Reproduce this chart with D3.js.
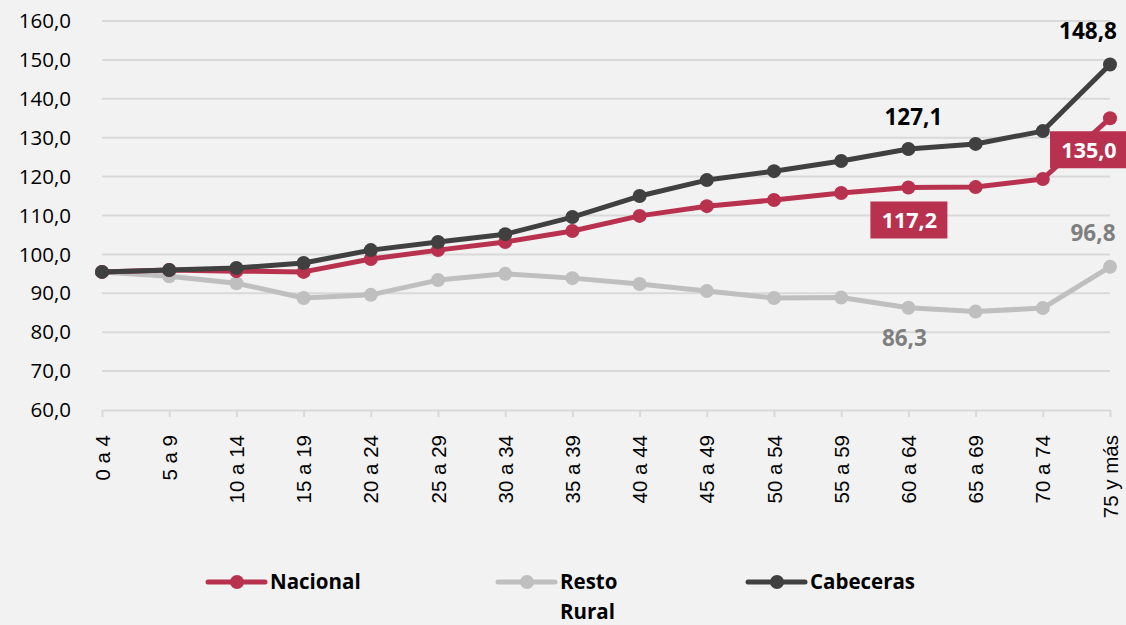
<!DOCTYPE html>
<html>
<head>
<meta charset="utf-8">
<script src="https://cdn.jsdelivr.net/npm/d3@7"></script>
<style>
	body { margin: 0; background: #f2f2f2; }
	svg { display: block; font-family: "Open Sans", "Noto Sans", sans-serif; }
	.grid line { stroke: #d9d9d9; stroke-width: 2; }
	.axis path, .axis line { stroke: #d9d9d9; stroke-width: 2; }
	.axis text { fill: #000; font-size: 20.5px; }
</style>
</head>
<body>
<div id="chart"></div>
<script>

// categories (age groups)
var categories = ["0 a 4", "5 a 9", "10 a 14", "15 a 19", "20 a 24", "25 a 29", "30 a 34",
	"35 a 39", "40 a 44", "45 a 49", "50 a 54", "55 a 59", "60 a 64", "65 a 69", "70 a 74", "75 y más"];

// series values
var nacional  = [95.5, 96.0, 95.7, 95.5, 98.8, 101.1, 103.2, 106.0, 109.9, 112.4, 114.0, 115.8, 117.2, 117.3, 119.4, 135.0];
var restoRural = [95.5, 94.4, 92.6, 88.8, 89.6, 93.4, 95.0, 93.9, 92.4, 90.6, 88.8, 88.9, 86.3, 85.3, 86.2, 96.8];
var cabeceras = [95.5, 96.0, 96.5, 97.8, 101.1, 103.2, 105.2, 109.6, 115.0, 119.1, 121.4, 124.0, 127.1, 128.4, 131.7, 148.8];

// y tick labels
var yTicks = [60, 70, 80, 90, 100, 110, 120, 130, 140, 150, 160];

var series = [
	{ name: "Resto Rural", values: restoRural, color: "#bfbfbf" },
	{ name: "Nacional", values: nacional, color: "#b83250" },
	{ name: "Cabeceras", values: cabeceras, color: "#404040" }
];

var width = 1126, height = 625;
var fmt = function(v) { return d3.format(".1f")(v).replace(".", ","); };

var svg = d3.select("#chart").append("svg")
	.attr("width", width)
	.attr("height", height);

var x = d3.scalePoint().domain(categories).range([102, 1110]);
var y = d3.scaleLinear().domain([60, 160]).range([410, 21]);

// gridlines
svg.append("g")
	.attr("class", "grid")
	.selectAll("line")
	.data(yTicks.slice(1))
	.enter()
	.append("line")
	.attr("x1", 102).attr("x2", 1110)
	.attr("y1", function(d) { return y(d); })
	.attr("y2", function(d) { return y(d); });

// y axis labels
svg.append("g")
	.selectAll("text")
	.data(yTicks)
	.enter()
	.append("text")
	.attr("x", 71)
	.attr("y", function(d) { return y(d); })
	.attr("dy", "0.35em")
	.attr("text-anchor", "end")
	.attr("font-size", 20.5)
	.attr("fill", "#000")
	.text(fmt);

// x axis
var xAxis = d3.axisBottom(x).tickSize(7).tickSizeOuter(0);
var gx = svg.append("g")
	.attr("class", "axis")
	.attr("transform", "translate(0,410)")
	.call(xAxis);
gx.selectAll("text")
	.attr("transform", "rotate(-90)")
	.attr("text-anchor", "end")
	.attr("x", -25)
	.attr("y", 0)
	.attr("dy", "0.35em");

// lines
var line = d3.line()
	.x(function(d, i) { return x(categories[i]); })
	.y(function(d) { return y(d); });

series.forEach(function(s) {
	var g = svg.append("g");
	g.append("path")
		.datum(s.values)
		.attr("fill", "none")
		.attr("stroke", s.color)
		.attr("stroke-width", 5)
		.attr("stroke-linejoin", "round")
		.attr("d", line);
	g.selectAll("circle")
		.data(s.values)
		.enter()
		.append("circle")
		.attr("cx", function(d, i) { return x(categories[i]); })
		.attr("cy", function(d) { return y(d); })
		.attr("r", 7)
		.attr("fill", s.color);
});

// data labels
function plainLabel(arr, i, dx, dy, color) {
	svg.append("text")
		.attr("x", x(categories[i]) + dx)
		.attr("y", y(arr[i]) + dy)
		.attr("text-anchor", "middle")
		.attr("dy", "0.35em")
		.attr("font-size", 22.5)
		.attr("font-weight", "bold")
		.attr("fill", color)
		.text(fmt(arr[i]));
}

function boxLabel(arr, i, dx, dy) {
	var cx = x(categories[i]) + dx, cy = y(arr[i]) + dy;
	svg.append("rect")
		.attr("x", cx - 39).attr("y", cy - 19)
		.attr("width", 77).attr("height", 37)
		.attr("fill", "#b83250");
	svg.append("text")
		.attr("x", cx)
		.attr("y", cy)
		.attr("text-anchor", "middle")
		.attr("dy", "0.35em")
		.attr("font-size", 21.5)
		.attr("font-weight", "bold")
		.attr("fill", "#fff")
		.text(fmt(arr[i]));
}

plainLabel(cabeceras, 15, -22, -33, "#000");
plainLabel(cabeceras, 12, 5, -32, "#000");
boxLabel(nacional, 15, -21, 32);
boxLabel(nacional, 12, 1, 33);
plainLabel(restoRural, 15, -17, -34, "#7f7f7f");
plainLabel(restoRural, 12, -4, 30, "#7f7f7f");

// legend
var legendItems = [
	{ lines: ["Nacional"], color: "#b83250", x: 208 },
	{ lines: ["Resto", "Rural"], color: "#bfbfbf", x: 498 },
	{ lines: ["Cabeceras"], color: "#404040", x: 748 }
];

var legend = svg.append("g").attr("transform", "translate(0,582)");
legendItems.forEach(function(d) {
	var g = legend.append("g").attr("transform", "translate(" + d.x + ",0)");
	g.append("line")
		.attr("x1", 0).attr("x2", 57)
		.attr("stroke", d.color)
		.attr("stroke-width", 5)
		.attr("stroke-linecap", "round");
	g.append("circle")
		.attr("cx", 29).attr("r", 7)
		.attr("fill", d.color);
	g.selectAll("text")
		.data(d.lines)
		.enter()
		.append("text")
		.attr("x", 62)
		.attr("y", function(t, i) { return i * 30; })
		.attr("dy", "0.35em")
		.attr("font-size", 20.5)
		.attr("font-weight", "bold")
		.attr("fill", "#000")
		.text(function(t) { return t; });
});

</script>
</body>
</html>
